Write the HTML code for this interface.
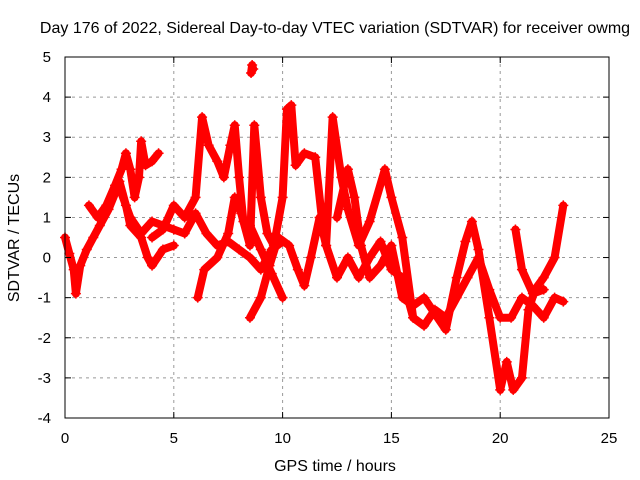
<!DOCTYPE html>
<html><head><meta charset="utf-8"><style>
body{margin:0;background:#fff;}
svg{display:block;font-family:"Liberation Sans",sans-serif;}
</style></head><body>
<svg id="chart" width="640" height="480" viewBox="0 0 640 480" xmlns="http://www.w3.org/2000/svg">
<text x="335" y="33" font-size="16" text-anchor="middle">Day 176 of 2022, Sidereal Day-to-day VTEC variation (SDTVAR) for receiver owmg</text>
<text x="335" y="471" font-size="16" text-anchor="middle">GPS time / hours</text>
<text transform="translate(19,238) rotate(-90)" font-size="16" text-anchor="middle">SDTVAR / TECUs</text>
<g id="grid"></g>
<g id="marks"></g>
<rect x="65" y="57" width="544" height="361" fill="none" stroke="#000" stroke-width="1"/>
<g id="ticks"></g>
</svg>
<script>
const xTicks=[0,5,10,15,20,25];
const yTicks=[-4,-3,-2,-1,0,1,2,3,4,5];
const trackA=[[0,0.5],[0.2,0.1],[0.4,-0.3],[0.5,-0.9],[0.7,-0.2],[1,0.2],[1.3,0.5],[1.6,0.8],[2,1.2],[2.3,1.6],[2.5,1.9],[2.8,1.3],[3,0.8],[3.5,0.5],[3.8,0],[4,-0.2],[4.5,0.2],[5,0.3]];
const trackB=[[1.1,1.3],[1.5,1.0],[1.9,1.3],[2.3,1.8],[2.6,2.2],[2.8,2.6],[3.0,2.2],[3.2,1.5],[3.4,2.0],[3.5,2.9],[3.7,2.3],[4.0,2.4],[4.3,2.6]];
const trackC=[[2.6,1.6],[3.0,1.0],[3.5,0.6],[4.0,0.9],[4.5,0.8],[5.0,0.7],[5.5,0.6],[6.0,1.1],[6.5,0.6],[7.0,0.3],[7.5,0.4],[8.0,0.2],[8.5,0.0],[9.0,-0.3],[9.5,0.2],[10,0.4]];
const trackD=[[4.0,0.5],[4.5,0.7],[5.0,1.3],[5.5,1.0],[6.0,1.5],[6.3,3.5],[6.6,2.8],[7.0,2.4],[7.3,2.0],[7.6,2.8],[7.8,3.3],[8.0,2.0],[8.2,0.9],[8.5,0.8],[9.0,0.2],[9.5,-0.4],[10,-1.0]];
const trackE=[[6.1,-1.0],[6.4,-0.3],[7.0,0.0],[7.5,0.6],[7.8,1.5],[8.1,1.1],[8.5,0.3],[8.7,3.3],[9.0,1.5],[9.3,0.6],[9.6,0.3],[10,1.5],[10.2,3.7],[10.4,3.8],[10.6,2.3],[11,2.6],[11.5,2.5],[11.8,1.0],[12,0.3],[12.3,3.5],[12.7,2.0],[13,1.2],[13.5,0.3],[14,0.9],[14.7,2.2],[15,1.5],[15.5,0.5],[16,-1.5]];
const trackF=[[8.5,-1.5],[9.0,-1.0],[9.4,-0.2],[9.8,0.5],[10.3,0.3],[10.7,-0.3],[11.0,-0.7],[11.3,0.0],[11.7,1.0],[12.0,0.3],[12.5,-0.5],[13,0.0],[13.5,-0.5],[14,0.0],[14.5,0.4],[15,-0.3],[15.5,-0.5],[16,-1.5],[16.5,-1.7],[17,-1.3],[17.5,-1.5],[18,-1.0],[18.5,-0.5],[19,0.0],[19.5,-0.8],[20,-1.5],[20.5,-1.5],[21,-1.0],[21.5,-1.2],[22,-1.5],[22.5,-1.0],[22.9,-1.1]];
const trackG=[[12.5,1.0],[13,2.2],[13.3,1.5],[13.6,0.3],[14,-0.5],[14.5,-0.2],[15,0.3],[15.5,-1.0],[16,-1.2],[16.5,-1.0],[17,-1.4],[17.5,-1.8],[18,-0.5],[18.4,0.4],[18.7,0.9],[19,0.2],[19.5,-1.5],[20,-3.3],[20.3,-2.6],[20.6,-3.3],[21,-3.0],[21.3,-1.3],[21.6,-0.8],[22,-0.5],[22.5,0.0],[22.9,1.3]];
const trackH=[[20.7,0.7],[21,-0.3],[21.5,-0.9],[22,-0.8]];
const trackI=[[8.55,4.6],[8.6,4.8],[8.65,4.7]];
const series=[trackA,trackB,trackC,trackD,trackE,trackF,trackG,trackH,trackI];
const ns="http://www.w3.org/2000/svg";
const X=v=>65+v*544/25, Y=v=>418-(v+4)*361/9;
const grid=document.getElementById('grid'),ticks=document.getElementById('ticks'),marks=document.getElementById('marks');
function mk(t,a,p){const e=document.createElementNS(ns,t);for(const k in a)e.setAttribute(k,a[k]);p.appendChild(e);return e;}
xTicks.forEach(t=>{
 if(t>0&&t<25){const g=mk('line',{x1:X(t),x2:X(t),y1:57,y2:418,stroke:'#999','stroke-dasharray':'3,4'},grid);
 
 }
 const tk=mk('line',{x1:X(t),x2:X(t),y1:418,y2:412,stroke:'#000'},ticks);
 
 
 const tk2=mk('line',{x1:X(t),x2:X(t),y1:57,y2:63,stroke:'#000'},ticks);
 
 
 const l=mk('text',{x:X(t),y:443,'font-size':15,'text-anchor':'middle'},ticks);l.textContent=t;
 
 
});
yTicks.forEach(t=>{
 if(t>-4&&t<5){const g=mk('line',{x1:65,x2:609,y1:Y(t),y2:Y(t),stroke:'#999','stroke-dasharray':'3,4'},grid);
 
 }
 const tk=mk('line',{x1:65,x2:71,y1:Y(t),y2:Y(t),stroke:'#000'},ticks);
 
 
 const tk2=mk('line',{x1:603,x2:609,y1:Y(t),y2:Y(t),stroke:'#000'},ticks);
 
 
 const l=mk('text',{x:51,y:Y(t)+5,'font-size':15,'text-anchor':'end'},ticks);l.textContent=t;
 
 
});
series.forEach((s,i)=>{
 const pl=mk('polyline',{points:s.map(p=>X(p[0])+','+Y(p[1])).join(' '),fill:'none',stroke:'#f00','stroke-width':8,'stroke-linejoin':'round','stroke-linecap':'round'},marks);
 
 
 s.forEach(p=>{
  const m=mk('path',{d:`M${X(p[0])-5},${Y(p[1])}h10M${X(p[0])},${Y(p[1])-5}v10`,stroke:'#f00','stroke-width':1.5},marks);
  
  
 });
});
</script>
</body></html>
